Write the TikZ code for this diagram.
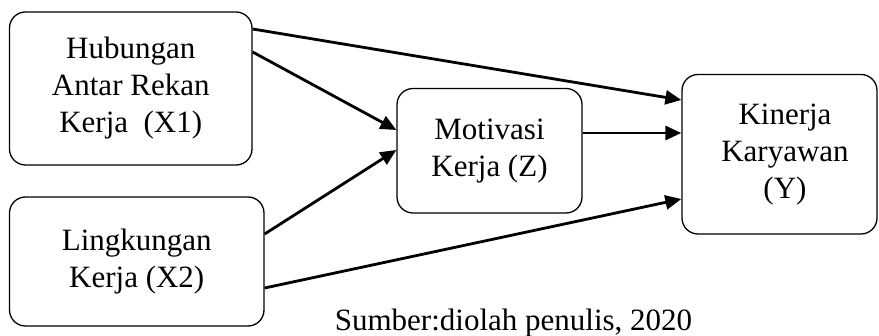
\documentclass[tikz,border=0pt]{standalone}
\usepackage{fontspec}
\setmainfont{Liberation Serif}
\usetikzlibrary{arrows.meta}
\begin{document}
\begin{tikzpicture}[x=1pt,y=-1pt,
  varbox/.style={draw=black, line width=1.3pt, rounded corners=16pt,
    align=center, font=\fontsize{31}{37}\selectfont, inner sep=0pt},
  link/.style={line width=2.8pt, -{Triangle[length=16pt,width=14pt]}}]
\useasboundingbox (0,0) rectangle (879,336);

% variable boxes
\node[varbox, minimum width=242.5pt, minimum height=153pt] (X1) at (130.75,88.5)
  {Hubungan\\Antar Rekan\\Kerja\ \ (X1)};
\node[varbox, minimum width=254.5pt, minimum height=129pt] (X2) at (136.75,261.5)
  {Lingkungan\\Kerja (X2)};
\node[varbox, minimum width=185pt, minimum height=124.5pt] (Z) at (489.5,150.75)
  {Motivasi\\Kerja (Z)};
\node[varbox, minimum width=195pt, minimum height=159.5pt] (Y) at (779.5,154.25)
  {\hspace*{11pt}Kinerja\\\hspace*{11pt}Karyawan\\\hspace*{11pt}(Y)};

% paths
\draw[link] ([yshift=59.5pt]X1.east) -- ([yshift=54.25pt]Y.west);
\draw[link] ([yshift=36.5pt]X1.east) -- ([yshift=20.75pt]Z.west);
\draw[link] ([yshift=27.5pt]X2.east) -- ([yshift=0.75pt]Z.west);
\draw[link] ([yshift=-26.5pt]X2.east) -- ([yshift=-44.75pt]Y.west);
\draw[link] ([yshift=17.75pt]Z.east) -- ([yshift=21.25pt]Y.west);

% source note
\node[anchor=base, inner sep=0pt, font=\fontsize{31}{37}\selectfont] (src) at (513.5,331)
  {Sumber:diolah penulis, 2020};
\end{tikzpicture}
\end{document}
